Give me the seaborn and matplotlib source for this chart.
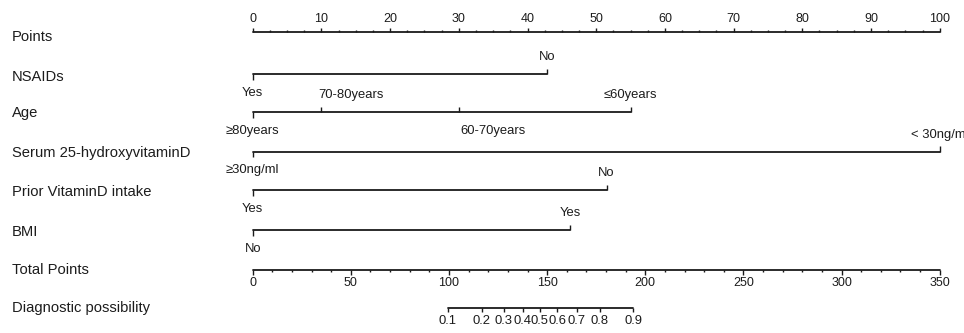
import numpy as np
import pandas as pd
import matplotlib
matplotlib.use("Agg")
import matplotlib.pyplot as plt
import seaborn as sns

# ---------------- data ----------------
row_names = ["Points", "NSAIDs", "Age", "Serum 25-hydroxyvitaminD",
             "Prior VitaminD intake", "BMI", "Total Points", "Diagnostic possibility"]

points_ticks = [0, 10, 20, 30, 40, 50, 60, 70, 80, 90, 100]

nsaids_labels = ["Yes", "No"]
nsaids_points = [0, 42.8]

age_labels = ["\u226580years", "70-80years", "60-70years", "\u226460years"]
age_points = [0, 10, 30, 55]

serum_labels = ["\u226530ng/ml", "< 30ng/ml"]
serum_points = [0, 100]

prior_labels = ["Yes", "No"]
prior_points = [0, 51.5]

bmi_labels = ["No", "Yes"]
bmi_points = [0, 46.2]

total_ticks = [0, 50, 100, 150, 200, 250, 300, 350]

diag_labels = ["0.1", "0.2", "0.3", "0.4", "0.5", "0.6", "0.7", "0.8", "0.9"]
diag_total = [99.4, 116.8, 128.0, 137.5, 146.3, 155.2, 165.0, 176.9, 193.8]

# ---------------- style ----------------
sns.set_theme(style="white")
plt.rcParams["font.family"] = ["Liberation Sans", "DejaVu Sans"]
TXT = "#1c1c1c"
LC = "#1a1a1a"

W, H = 964, 333
fig = plt.figure(figsize=(W / 100, H / 100), dpi=100)
ax = fig.add_axes([0, 0, 1, 1])
px_per_pt = 6.87
x0 = 252.7
ax.set_xlim(-x0 / px_per_pt, (W - x0) / px_per_pt)
ax.set_ylim(H, 0)
ax.axis("off")

def dx(px):
    return px / px_per_pt

row_y = [32.3, 74, 112.3, 151.7, 190, 230, 270, 308.3]
label_y = [37, 77, 113, 153, 192, 232, 270, 308]
for name, ly in zip(row_names, label_y):
    ax.text(-x0 / px_per_pt + dx(12), ly, name, fontsize=10.6, color=TXT,
            ha="left", va="center")

def hline(x_a, x_b, y, lw=1.3):
    df = pd.DataFrame({"x": [x_a, x_b], "y": [y, y]})
    sns.lineplot(data=df, x="x", y="y", ax=ax, color=LC, lw=lw,
                 legend=False, estimator=None, sort=False)

def vtick(x, y, length):
    ax.plot([x, x], [y, y + length], color=LC, lw=1.0, solid_capstyle="butt")

# Points axis
yp = row_y[0]
hline(0, 100, yp)
for v in np.arange(0, 100.01, 2.5):
    major = abs(v % 10) < 1e-9
    vtick(v, yp, -4.5 if major else -2.2)
for v in points_ticks:
    ax.text(v, yp - 13, str(v), fontsize=9, color=TXT, ha="center", va="center")

# categorical variables
def variable(pts, labels, y, positions, has=None, offs=None):
    hline(min(pts), max(pts), y)
    for i, (p, lab, pos) in enumerate(zip(pts, labels, positions)):
        if i == 0:
            vtick(p, y, 5.5)
        else:
            vtick(p, y, -5.5)
        ha = has[i] if has else "center"
        off = offs[i] if offs else 0
        ty = y - 17 if pos == "up" else y + 18.5
        ax.text(p + dx(off), ty, lab, fontsize=9.4, color=TXT, ha=ha, va="center")

variable(nsaids_points, nsaids_labels, row_y[1], ["down", "up"])
variable(age_points, age_labels, row_y[2], ["down", "up", "down", "up"],
         has=["center", "left", "left", "center"], offs=[0, -3, 2, 0])
variable(serum_points, serum_labels, row_y[3], ["down", "up"])
variable(prior_points, prior_labels, row_y[4], ["down", "up"])
variable(bmi_points, bmi_labels, row_y[5], ["down", "up"])

# Total points axis
scale = 100 / 350
yt = row_y[6]
hline(0, 350 * scale, yt)
for v in range(0, 351, 10):
    major = v % 50 == 0
    vtick(v * scale, yt, 4.5 if major else 2.2)
for v in total_ticks:
    ax.text(v * scale, yt + 13, str(v), fontsize=9, color=TXT, ha="center", va="center")

# Diagnostic possibility axis
yd = row_y[7]
hline(diag_total[0] * scale, diag_total[-1] * scale, yd)
for v, lab in zip(diag_total, diag_labels):
    vtick(v * scale, yd, 4)
    ax.text(v * scale, yd + 12.5, lab, fontsize=9.4, color=TXT, ha="center", va="center")

fig.savefig("out.png", dpi=100, facecolor="white")
